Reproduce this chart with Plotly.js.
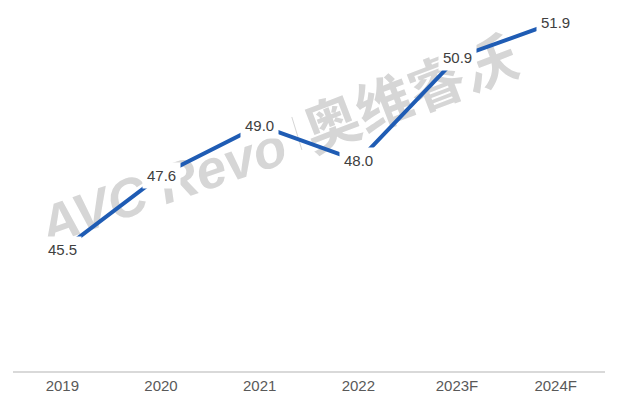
<!DOCTYPE html>
<html><head><meta charset="utf-8">
<script src="https://cdn.plot.ly/plotly-3.0.1.min.js"></script>
<style>html,body{margin:0;padding:0;background:#fff}#chart{width:617px;height:406px}</style>
</head><body><div id="chart"></div>
<script>
const categories = ['2019', '2020', '2021', '2022', '2023F', '2024F'];
const values = [45.5, 47.6, 49.0, 48.0, 50.9, 51.9];
const valueLabels = ['45.5', '47.6', '49.0', '48.0', '50.9', '51.9'];
const watermarkLatin = 'AVC Revo';
const watermarkCJK = '奥维睿沃';

const xIdx = categories.map((c, i) => i);
const trace = {
  type: 'scatter', mode: 'lines', x: xIdx, y: values,
  line: {color: '#1f5cb4', width: 4}, hoverinfo: 'skip'
};
const annotations = xIdx.map((xi, i) => ({
  x: xi, y: values[i], xref: 'x', yref: 'y', text: valueLabels[i], showarrow: false,
  bgcolor: '#ffffff', borderpad: 4,
  font: {family: 'Liberation Sans, Arial, sans-serif', size: 15, color: '#404040'}
}));
const wmColor = '#d6d6d6';
const layout = {
  width: 617, height: 406,
  margin: {l: 13, r: 12, t: 5, b: 35},
  paper_bgcolor: '#fff', plot_bgcolor: '#fff',
  showlegend: false,
  xaxis: {
    type: 'linear', range: [-0.5, 5.5], tickmode: 'array', tickvals: xIdx, ticktext: categories,
    showgrid: false, zeroline: false, showline: true,
    linecolor: '#d9d9d9', linewidth: 1.5, ticks: '',
    tickfont: {family: 'Liberation Sans, Arial, sans-serif', size: 15, color: '#595959'}
  },
  yaxis: {range: [42.1, 52.38], visible: false, showgrid: false, zeroline: false},
  shapes: [
    {type: 'rect', xref: 'paper', yref: 'paper', x0: 0.24, x1: 0.26, y0: 0.51, y1: 0.53,
      layer: 'below', line: {width: 0}, fillcolor: 'rgba(0,0,0,0)',
      label: {text: watermarkLatin, textangle: -19, textposition: 'middle center',
        font: {family: 'Liberation Sans, sans-serif', size: 54, color: wmColor, weight: 'bold', style: 'italic'}}},
    {type: 'rect', xref: 'paper', yref: 'paper', x0: 0.664, x1: 0.684, y0: 0.735, y1: 0.755,
      layer: 'below', line: {width: 0}, fillcolor: 'rgba(0,0,0,0)',
      label: {text: watermarkCJK, textangle: -21, textposition: 'middle center',
        font: {family: 'Noto Sans CJK SC, sans-serif', size: 56, color: wmColor, weight: 'bold'}}},
    {type: 'line', xref: 'paper', yref: 'paper', x0: 0.471, y0: 0.694, x1: 0.488, y1: 0.604,
      layer: 'below', line: {width: 1, color: wmColor}}
  ],
  annotations: annotations
};
Plotly.newPlot('chart', [trace], layout, {displayModeBar: false, staticPlot: true});
</script></body></html>
